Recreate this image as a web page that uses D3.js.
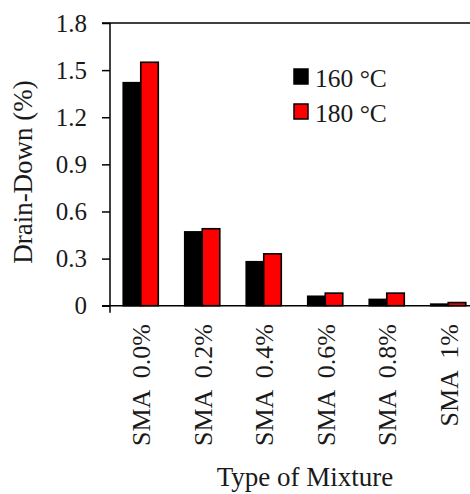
<!DOCTYPE html>
<html>
<head>
<meta charset="utf-8">
<script src="https://cdn.jsdelivr.net/npm/d3@7"></script>
<style>
  body { margin: 0; background: #fff; }
  text { font-family: "Liberation Serif", "DejaVu Serif", serif; fill: #1a1a1a; }
</style>
</head>
<body>
<div id="chart-area"></div>
<script>
var categories = ["SMA  0.0%", "SMA  0.2%", "SMA  0.4%", "SMA  0.6%", "SMA  0.8%", "SMA  1%"];
var seriesNames = ["160 \u00B0C", "180 \u00B0C"];
var values160 = [1.42, 0.47, 0.28, 0.06, 0.04, 0.01];
var values180 = [1.55, 0.49, 0.33, 0.08, 0.08, 0.02];
var yTicks = [0, 0.3, 0.6, 0.9, 1.2, 1.5, 1.8];
var colors = ["#000000", "#ff0000"];

var width = 470;
var height = 494;
var plotLeft = 110, plotTop = 23, plotBottom = 305.7;

var svg = d3.select("#chart-area")
    .append("svg")
    .attr("width", width)
    .attr("height", height);

var x = d3.scaleBand()
    .domain(categories)
    .range([plotLeft, 479])
    .paddingInner(0.43)
    .paddingOuter(0.215);

var x1 = d3.scaleBand()
    .domain(seriesNames)
    .range([0, x.bandwidth()]);

var y = d3.scaleLinear()
    .domain([0, 1.8])
    .range([plotBottom, plotTop]);

var data = categories.map(function(c, i){
    return {cat: c, vals: [values160[i], values180[i]]};
});

// bars
var groups = svg.selectAll(".grp").data(data).enter().append("g")
    .attr("class", "grp")
    .attr("transform", (d) => "translate(" + x(d.cat) + ",0)");

groups.selectAll("rect")
    .data((d) => d.vals.map((v, j) => ({name: seriesNames[j], v: v, j: j})))
    .enter().append("rect")
    .attr("x", (d) => x1(d.name))
    .attr("y", (d) => y(d.v))
    .attr("width", x1.bandwidth())
    .attr("height", (d) => y(0) - y(d.v))
    .attr("fill", (d) => colors[d.j])
    .attr("stroke", "#000")
    .attr("stroke-width", 1.6);

// frame lines
svg.append("line").attr("x1", plotLeft - 8).attr("x2", width).attr("y1", plotTop).attr("y2", plotTop)
    .attr("stroke", "#000").attr("stroke-width", 1.5);
svg.append("line").attr("x1", plotLeft - 8).attr("x2", width).attr("y1", plotBottom).attr("y2", plotBottom)
    .attr("stroke", "#000").attr("stroke-width", 1.5);

// y axis
var yAxisCall = d3.axisLeft(y)
    .tickValues(yTicks)
    .tickSize(8)
    .tickPadding(15)
    .tickFormat((d) => d === 0 ? "0" : d3.format(".1f")(d));

var yAxisGroup = svg.append("g")
    .attr("transform", "translate(" + plotLeft + ",0)")
    .call(yAxisCall);
yAxisGroup.select(".domain").remove();
yAxisGroup.selectAll(".tick line").attr("stroke", "#000").attr("stroke-width", 1.5);
yAxisGroup.selectAll(".tick text")
    .attr("font-family", "Liberation Serif")
    .attr("font-size", "25px")
    .style("fill", "#1a1a1a");
yAxisGroup.append("line")
    .attr("x1", 0).attr("x2", 0)
    .attr("y1", plotTop).attr("y2", plotBottom + 7)
    .attr("stroke", "#000").attr("stroke-width", 1.5);

// category labels
svg.selectAll(".cat").data(categories).enter().append("text")
    .attr("class", "cat")
    .attr("transform", (d) => "translate(" + (x(d) + x.bandwidth() / 2 + 1) + "," + 324 + ") rotate(-90)")
    .attr("text-anchor", "end")
    .attr("dominant-baseline", "central")
    .attr("font-size", "26px")
    .style("white-space", "pre")
    .text((d) => d);

// axis titles
svg.append("text")
    .attr("transform", "translate(32," + 172 + ") rotate(-90)")
    .attr("text-anchor", "middle")
    .attr("font-size", "27px")
    .text("Drain-Down (%)");

svg.append("text")
    .attr("x", 305)
    .attr("y", 486)
    .attr("text-anchor", "middle")
    .attr("font-size", "27px")
    .text("Type of Mixture");

// legend
var lGroup = svg.append("g").attr("transform", "translate(294,69)");
seriesNames.forEach((name, i) => {
    var row = lGroup.append("g").attr("transform", "translate(0," + (i * 35) + ")");
    row.append("rect")
        .attr("width", 14)
        .attr("height", 15)
        .attr("fill", colors[i])
        .attr("stroke", "#000")
        .attr("stroke-width", 1.5);
    row.append("text")
        .attr("x", 21)
        .attr("y", 18)
        .attr("font-size", "25.5px")
        .text(name);
});
</script>
</body>
</html>
